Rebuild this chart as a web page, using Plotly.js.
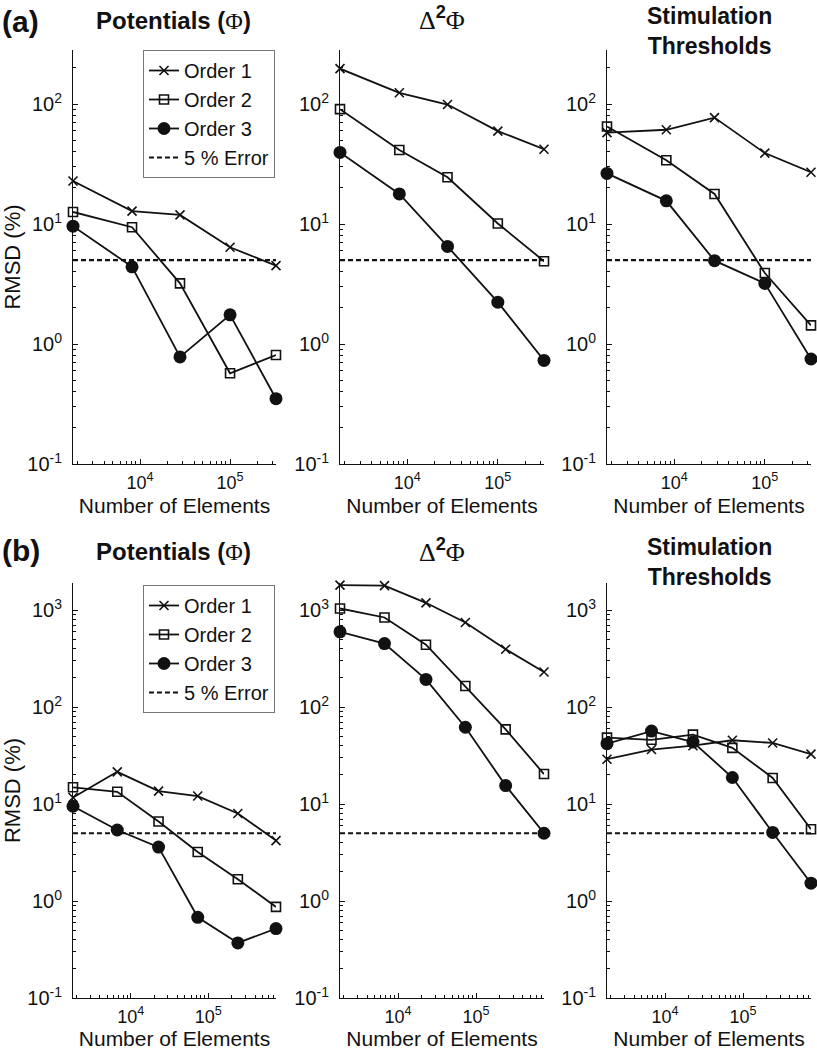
<!DOCTYPE html>
<html>
<head>
<meta charset="utf-8">
<script src="https://cdn.plot.ly/plotly-3.0.1.min.js"></script>
<style>
  html, body { margin: 0; padding: 0; background: #ffffff; }
  #chart { width: 817px; height: 1050px; }
</style>
</head>
<body>
<div id="chart"></div>
<script>
// ---------------- data ----------------
const seriesNames = ["Order 1", "Order 2", "Order 3"];
const errorName = "5 % Error";
const errorLevel = 5;

// (a) row: number of elements
const xTop = [1800, 8150, 27800, 100000, 324000];
// (a) Potentials (Phi)
const potA1 = [22.8, 12.8, 11.9, 6.4, 4.5];
const potA2 = [12.6, 9.4, 3.2, 0.57, 0.81];
const potA3 = [9.6, 4.4, 0.78, 1.75, 0.35];
// (a) Delta^2 Phi
const lapA1 = [197, 124, 99, 59.5, 42];
const lapA2 = [90.6, 41.4, 24.5, 10.1, 4.9];
const lapA3 = [39.5, 17.8, 6.5, 2.23, 0.73];
// (a) Stimulation thresholds
const stimA1 = [57.8, 61, 77, 39, 27];
const stimA2 = [65, 34, 17.8, 3.9, 1.43];
const stimA3 = [26.4, 15.6, 4.95, 3.2, 0.75];

// (b) row: number of elements
const xBottom = [1800, 6700, 22800, 73000, 240000, 745000];
// (b) Potentials (Phi)
const potB1 = [11.7, 21.5, 13.6, 12.1, 8.0, 4.2];
const potB2 = [14.9, 13.4, 6.6, 3.2, 1.68, 0.87];
const potB3 = [9.5, 5.4, 3.6, 0.68, 0.37, 0.52];
// (b) Delta^2 Phi
const lapB1 = [1810, 1790, 1190, 745, 395, 230];
const lapB2 = [1040, 840, 440, 165, 59, 20.4];
const lapB3 = [597, 452, 193, 62, 15.5, 5.0];
// (b) Stimulation thresholds
const stimB1 = [29, 36.5, 40, 45.5, 42.7, 32.7];
const stimB2 = [48.4, 46, 52, 38, 18.6, 5.5];
const stimB3 = [42, 56.6, 43.6, 18.8, 5.1, 1.53];

// tick labels
const xTickVals = [1e4, 1e5];
const xTickText = ["10<sup>4</sup>", "10<sup>5</sup>"];
const yTickValsTop = [0.1, 1, 10, 100];
const yTickTextTop = ["10<sup>-1</sup>", "10<sup>0</sup>", "10<sup>1</sup>", "10<sup>2</sup>"];
const yTickValsBottom = [0.1, 1, 10, 100, 1000];
const yTickTextBottom = ["10<sup>-1</sup>", "10<sup>0</sup>", "10<sup>1</sup>", "10<sup>2</sup>", "10<sup>3</sup>"];

// ---------------- styles ----------------
const FONT = "Liberation Sans, Arial, Helvetica, sans-serif";
const SERIF = "Liberation Serif, DejaVu Serif, serif";
const INK = "#111111";
const markerStyles = [
  {symbol: "x-thin-open", size: 9, color: INK, line: {color: INK, width: 1.6}},
  {symbol: "square-open", size: 9, color: INK, line: {color: INK, width: 1.6}},
  {symbol: "circle", size: 13, color: INK, line: {color: INK, width: 0}}
];

function minorVals(lo, hi) {
  const v = [];
  for (let d = lo; d <= hi; d++) {
    for (let k = 2; k <= 9; k++) v.push(k * Math.pow(10, d));
  }
  return v;
}

const panels = [
  {x: xTop, ys: [potA1, potA2, potA3], ax: "", legend: "legend", showLeg: true},
  {x: xTop, ys: [lapA1, lapA2, lapA3], ax: "2", legend: "legend", showLeg: false},
  {x: xTop, ys: [stimA1, stimA2, stimA3], ax: "3", legend: "legend", showLeg: false},
  {x: xBottom, ys: [potB1, potB2, potB3], ax: "4", legend: "legend2", showLeg: true},
  {x: xBottom, ys: [lapB1, lapB2, lapB3], ax: "5", legend: "legend2", showLeg: false},
  {x: xBottom, ys: [stimB1, stimB2, stimB3], ax: "6", legend: "legend2", showLeg: false}
];

const traces = [];
panels.forEach(p => {
  p.ys.forEach((y, i) => {
    traces.push({
      type: "scatter", mode: "lines+markers",
      x: p.x, y: y, name: seriesNames[i],
      xaxis: "x" + p.ax, yaxis: "y" + p.ax,
      legend: p.legend, showlegend: p.showLeg,
      line: {color: INK, width: 1.8},
      marker: markerStyles[i],
      cliponaxis: false
    });
  });
  const xmin = Math.min(...p.x), xmax = Math.max(...p.x);
  traces.push({
    type: "scatter", mode: "lines",
    x: [xmin, xmax], y: [errorLevel, errorLevel], name: errorName,
    xaxis: "x" + p.ax, yaxis: "y" + p.ax,
    legend: p.legend, showlegend: p.showLeg,
    line: {color: INK, width: 2.2, dash: "5px,3px"},
    hoverinfo: "skip"
  });
});

// ---------------- layout ----------------
const W = 817, H = 1050;
const cols = [[73, 276], [340, 544], [607, 811]];
const rows = [[50, 464], [583, 998]];
const yRanges = [[-1, 2.45], [-1, 3.28]];

const layout = {
  width: W, height: H,
  margin: {l: 0, r: 0, t: 0, b: 0},
  paper_bgcolor: "#ffffff", plot_bgcolor: "#ffffff",
  font: {family: FONT, color: INK, size: 18},
  showlegend: true,
  annotations: []
};

function legendAt(topPx) {
  return {
    x: 143 / W, y: 1 - topPx / H, xanchor: "left", yanchor: "top",
    bgcolor: "#ffffff", bordercolor: "#777777", borderwidth: 1,
    font: {family: FONT, size: 20, color: INK},
    itemwidth: 30, tracegroupgap: 0
  };
}
layout.legend = legendAt(50);
layout.legend2 = legendAt(585);

panels.forEach((p, idx) => {
  const r = Math.floor(idx / 3), c = idx % 3;
  const xs = p.x;
  const xa = {
    type: "log",
    domain: [cols[c][0] / W, cols[c][1] / W],
    range: [Math.log10(Math.min(...xs)), Math.log10(Math.max(...xs))],
    anchor: "y" + p.ax,
    showline: true, linecolor: INK, linewidth: 1,
    showgrid: false, zeroline: false, mirror: false,
    ticks: "inside", ticklen: 5, tickwidth: 1, tickcolor: INK,
    tickmode: "array", tickvals: xTickVals, ticktext: xTickText,
    tickfont: {family: FONT, size: 18, color: INK},
    ticklabelstandoff: 2,
    minor: {ticks: "inside", ticklen: 3, tickcolor: INK, tickmode: "array", tickvals: minorVals(3, 5)},
    automargin: false,
    title: {text: "Number of Elements", font: {family: FONT, size: 21, color: INK}, standoff: 6}
  };
  const ya = {
    type: "log",
    domain: [1 - rows[r][1] / H, 1 - rows[r][0] / H],
    range: yRanges[r],
    anchor: "x" + p.ax,
    showline: true, linecolor: INK, linewidth: 1,
    showgrid: false, zeroline: false, mirror: false,
    ticks: "inside", ticklen: 5, tickwidth: 1, tickcolor: INK,
    tickmode: "array",
    tickvals: r === 0 ? yTickValsTop : yTickValsBottom,
    ticktext: r === 0 ? yTickTextTop : yTickTextBottom,
    tickfont: {family: FONT, size: 20, color: INK},
    ticklabelstandoff: 6,
    minor: {ticks: "inside", ticklen: 3, tickcolor: INK, tickmode: "array", tickvals: minorVals(-1, 3)},
    automargin: false
  };
  if (c === 0) {
    ya.title = {text: "RMSD (%)", font: {family: FONT, size: 22, color: INK}, standoff: 4};
  }
  layout["xaxis" + p.ax] = xa;
  layout["yaxis" + p.ax] = ya;
});

// panel titles
function ann(text, xPx, yPx, size, xanchor) {
  layout.annotations.push({
    text: text, xref: "paper", yref: "paper",
    x: xPx / W, y: 1 - yPx / H,
    xanchor: xanchor || "center", yanchor: "middle",
    showarrow: false,
    font: {family: FONT, size: size, color: INK}
  });
}
const phi = '<span style="font-family:' + SERIF + ';font-weight:normal">Φ</span>';
const delta = '<span style="font-family:' + SERIF + '">Δ</span>';
const potTitle = "<b>Potentials (</b>" + phi + "<b>)</b>";
const lapTitle = delta + "<sup><b>2</b></sup>" + phi;
const stimTitle = "<b>Stimulation<br>Thresholds</b>";

ann("<b>(a)</b>", 0, 21, 30, "left");
ann(potTitle, 173, 20, 24);
ann(lapTitle, 442, 19, 26);
ann(stimTitle, 709, 31, 23);

ann("<b>(b)</b>", 0, 550, 30, "left");
ann(potTitle, 173, 551, 24);
ann(lapTitle, 442, 550, 26);
ann(stimTitle, 709, 562, 23);

Plotly.newPlot("chart", traces, layout, {displayModeBar: false, staticPlot: true});
</script>
</body>
</html>
